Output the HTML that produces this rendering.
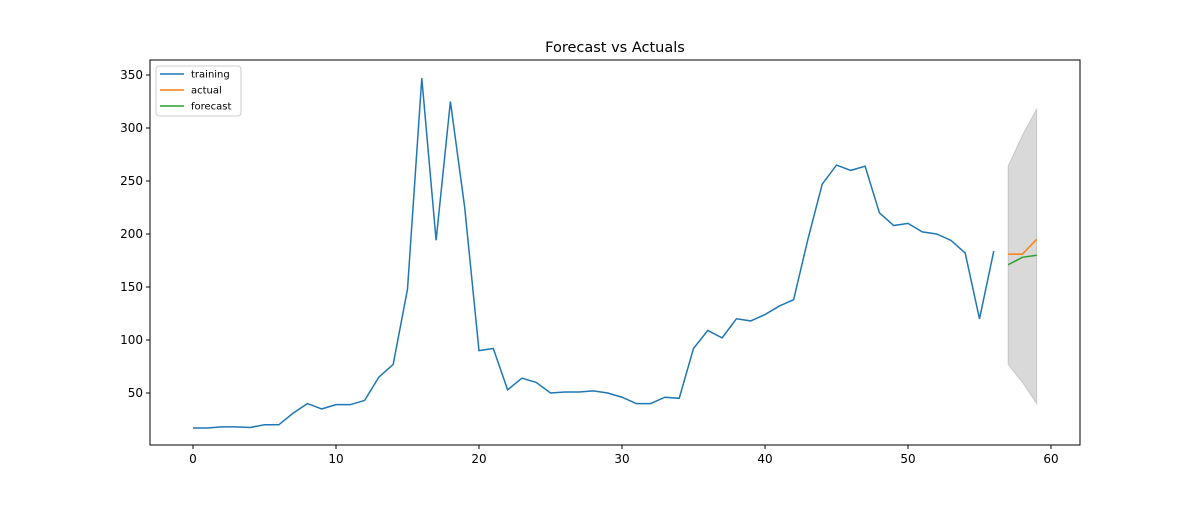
<!DOCTYPE html>
<html><head><meta charset="utf-8"><style>
body{margin:0;background:#fff;font-family:"Liberation Sans","DejaVu Sans",sans-serif;}
text{font-family:"DejaVu Sans","Liberation Sans",sans-serif;}
</style></head><body>
<svg id="chart" width="1200" height="500" xmlns="http://www.w3.org/2000/svg"></svg>
<script>
const training=[17,17,18,18,17.5,20,20,31,40,35,39,39,43,65,77,148,347,194,325,225,90,92,53,64,60,50,51,51,52,50,46,40,40,46,45,92,109,102,120,118,124,132,138,195,247,265,260,264,220,208,210,202,200,194,182,120,184];
const actualX=[57,58,59];
const actual=[181,181,195];
const forecast=[171,178,180];
const lower=[77,60,40];
const upper=[264,293,318];
const xTicks=[0,10,20,30,40,50,60];
const yTicks=[50,100,150,200,250,300,350];
const NS="http://www.w3.org/2000/svg";
const svg=document.getElementById('chart');
const L=150,R=1080,T=60,B=445;
const X=v=>193+(v-0)*(1051-193)/60;
const Y=v=>393-(v-50)*(393-75)/300;
function el(t,a,p){const e=document.createElementNS(NS,t);for(const k in a)e.setAttribute(k,a[k]);(p||svg).appendChild(e);return e;}
// CI band
let pts=actualX.map((x,i)=>X(x)+','+Y(upper[i])).concat(actualX.slice().reverse().map((x,j)=>{const i=actualX.length-1-j;return X(x)+','+Y(lower[i]);}));
const band=el('polygon',{points:pts.join(' '),fill:'#000','fill-opacity':0.15,stroke:'#000','stroke-opacity':0.15});


function line(xs,ys,c,name){const l=el('polyline',{points:xs.map((x,i)=>X(x)+','+Y(ys[i])).join(' '),fill:'none',stroke:c,'stroke-width':1.5});

}
line(training.map((_,i)=>i),training,'#1f77b4','training-line');
line(actualX,actual,'#ff7f0e','actual-line');
line(actualX,forecast,'#2ca02c','forecast-line');
const frame=el('rect',{x:L,y:T,width:R-L,height:B-T,fill:'none',stroke:'#000','stroke-width':1});


xTicks.forEach(v=>{el('line',{x1:X(v),x2:X(v),y1:B,y2:B+4,stroke:'#000'});
const t=el('text',{x:X(v),y:B+18,'text-anchor':'middle','font-size':12});t.textContent=v;

});
yTicks.forEach(v=>{el('line',{x1:L-4,x2:L,y1:Y(v),y2:Y(v),stroke:'#000'});
const t=el('text',{x:L-7,y:Y(v)+4,'text-anchor':'end','font-size':12});t.textContent=v;

});
const title=el('text',{x:615,y:52,'text-anchor':'middle','font-size':14.5});title.textContent='Forecast vs Actuals';


const lg=el('g',{});


el('rect',{x:156,y:66,width:85,height:50,rx:3,fill:'#fff',stroke:'#ccc'},lg);
[['training','#1f77b4'],['actual','#ff7f0e'],['forecast','#2ca02c']].forEach((d,i)=>{const y=74+i*16;
el('line',{x1:160,x2:184,y1:y,y2:y,stroke:d[1],'stroke-width':1.5},lg);
const t=el('text',{x:191,y:y+3.5,'font-size':10},lg);t.textContent=d[0];

});
</script>
</body></html>
